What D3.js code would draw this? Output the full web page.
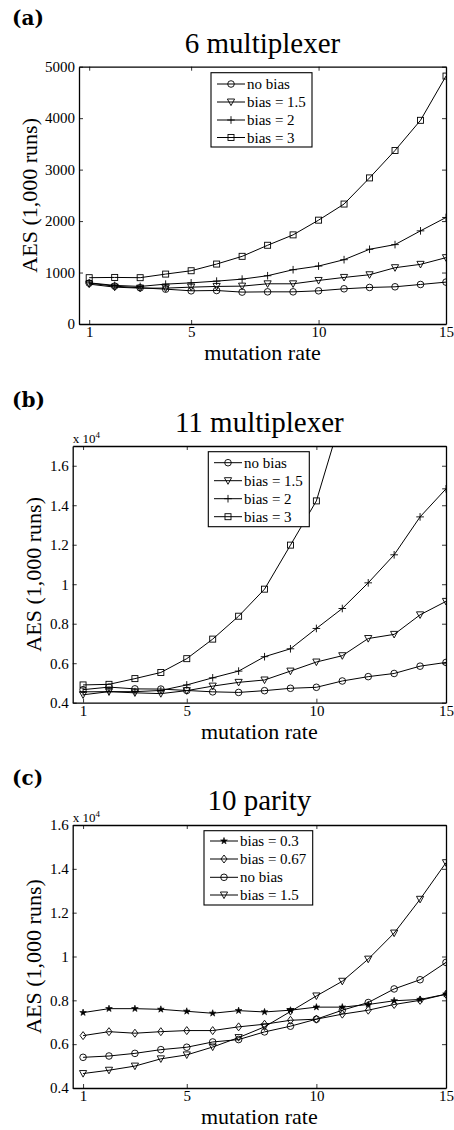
<!DOCTYPE html>
<html>
<head>
<meta charset="utf-8">
<script src="https://cdn.jsdelivr.net/npm/d3@7"></script>
<style>
  html, body { margin: 0; padding: 0; background: #fff; }
  svg { display: block; }
  text { fill: #000; }
</style>
</head>
<body>
<script>
// ---------------- DATA ----------------
const mutationRates = [1, 2, 3, 4, 5, 6, 7, 8, 9, 10, 11, 12, 13, 14, 15];
const xTickValues = [1, 5, 10, 15];

// (a) 6 multiplexer
const aNoBias  = [794, 736, 703, 677, 645, 651, 620, 625, 625, 645, 684, 710, 723, 768, 814];
const aBias15  = [775, 716, 697, 697, 716, 730, 736, 781, 781, 846, 905, 957, 1094, 1159, 1289];
const aBias2   = [800, 750, 730, 775, 800, 833, 872, 938, 1055, 1126, 1250, 1452, 1543, 1810, 2070];
const aBias3   = [900, 905, 900, 970, 1035, 1165, 1315, 1530, 1732, 2018, 2331, 2839, 3372, 3958, 4818];
const aYTicks  = [0, 1000, 2000, 3000, 4000, 5000];
const aYTickLabels = ["0", "1000", "2000", "3000", "4000", "5000"];

// (b) 11 multiplexer
const bNoBias  = [4660, 4790, 4700, 4690, 4620, 4550, 4520, 4610, 4730, 4780, 5100, 5320, 5480, 5850, 6040];
const bBias15  = [4400, 4560, 4500, 4460, 4610, 4840, 5030, 5150, 5600, 6060, 6380, 7250, 7460, 8450, 9130];
const bBias2   = [4550, 4560, 4560, 4620, 4900, 5260, 5600, 6330, 6730, 7760, 8770, 10070, 11490, 13410, 14830];
const bBias3   = [4900, 4930, 5220, 5530, 6230, 7220, 8380, 9750, 11980, 14220, 18600, 24000, 30000, 37000, 46000];
const bYTicks  = [4000, 6000, 8000, 10000, 12000, 14000, 16000];
const bYTickLabels = ["0.4", "0.6", "0.8", "1", "1.2", "1.4", "1.6"];

// (c) 10 parity
const cBias03  = [7440, 7620, 7620, 7590, 7500, 7410, 7530, 7470, 7550, 7690, 7690, 7810, 7980, 8040, 8280];
const cBias067 = [6390, 6570, 6500, 6570, 6620, 6620, 6790, 6910, 7090, 7140, 7370, 7550, 7810, 8000, 8280];
const cNoBias  = [5400, 5460, 5580, 5750, 5860, 6100, 6210, 6560, 6820, 7140, 7550, 7900, 8520, 8940, 9730];
const cBias15  = [4660, 4810, 5000, 5330, 5510, 5870, 6300, 6790, 7490, 8200, 8870, 9880, 11070, 12610, 14280];
const cYTicks  = [4000, 6000, 8000, 10000, 12000, 14000, 16000];
const cYTickLabels = ["0.4", "0.6", "0.8", "1", "1.2", "1.4", "1.6"];

const titles = ["6 multiplexer", "11 multiplexer", "10 parity"];
const panelLabels = ["(a)", "(b)", "(c)"];
const xLabel = "mutation rate";
const yLabel = "AES (1,000 runs)";
const exponentLabel = "x 10";
const exponentSup = "4";

// ---------------- DRAWING ----------------
const SERIF = "'Liberation Serif', 'Times New Roman', Tinos, 'Nimbus Roman', 'DejaVu Serif', serif";
const W = 454, H = 1130;
const svg = d3.select("body").append("svg").attr("width", W).attr("height", H)
  .attr("font-family", SERIF);

function drawMarker(g, type, cx, cy) {
  const s = g.append("g").attr("transform", `translate(${cx},${cy})`)
    .attr("fill", "none").attr("stroke", "#000").attr("stroke-width", 0.9);
  if (type === "circle") {
    s.append("circle").attr("r", 3.3);
  } else if (type === "triDown") {
    s.append("path").attr("d", "M-3.6,-3 L3.6,-3 L0,3.6 Z");
  } else if (type === "square") {
    s.append("rect").attr("x", -3).attr("y", -3).attr("width", 6).attr("height", 6);
  } else if (type === "plus") {
    s.append("path").attr("d", "M-3.8,0 H3.8 M0,-3.8 V3.8");
  } else if (type === "diamond") {
    s.append("path").attr("d", "M0,-4 L3,0 L0,4 L-3,0 Z");
  } else if (type === "star") {
    s.append("path").attr("d", d3.symbol(d3.symbolStar, 14)()).attr("fill", "#000").attr("stroke-width", 0.6);
  }
}

function drawPanel(p) {
  const x = d3.scaleLinear().domain([0.6, 15]).range([p.left, p.right]);
  const y = d3.scaleLinear().domain(p.yDomain).range([p.bottom, p.top]);
  const g = svg.append("g");

  // panel label
  g.append("text").attr("x", 12).attr("y", p.labelY)
    .attr("font-family", "'DejaVu Serif', serif").attr("font-weight", "bold")
    .attr("font-size", 20).text(p.label);

  // title
  g.append("text").attr("x", (p.left + p.right) / 2).attr("y", p.titleY)
    .attr("text-anchor", "middle").attr("font-size", 29).text(p.title);

  // clip
  const clipId = "clip" + p.label.replace(/\W/g, "");
  svg.append("clipPath").attr("id", clipId).append("rect")
    .attr("x", p.left).attr("y", p.top).attr("width", p.right - p.left).attr("height", p.bottom - p.top);

  // axes (inward ticks on all sides)
  const axB = d3.axisBottom(x).tickValues(xTickValues).tickSizeInner(-4).tickSizeOuter(0).tickPadding(2.6)
    .tickFormat(d3.format("d"));
  const axT = d3.axisTop(x).tickValues(xTickValues).tickSizeInner(-4).tickSizeOuter(0).tickFormat("");
  const axL = d3.axisLeft(y).tickValues(p.yTicks).tickSizeInner(-4).tickSizeOuter(0).tickPadding(4)
    .tickFormat((d, i) => p.yTickLabels[i]);
  const axR = d3.axisRight(y).tickValues(p.yTicks).tickSizeInner(-4).tickSizeOuter(0).tickFormat("");

  const gB = g.append("g").attr("transform", `translate(0,${p.bottom})`).call(axB);
  const gT = g.append("g").attr("transform", `translate(0,${p.top})`).call(axT);
  const gL = g.append("g").attr("transform", `translate(${p.left},0)`).call(axL);
  const gR = g.append("g").attr("transform", `translate(${p.right},0)`).call(axR);
  [gB, gT, gL, gR].forEach(a => {
    a.attr("font-family", SERIF).attr("font-size", 15);
    a.selectAll("text").attr("fill", "#000");
    a.selectAll("line").attr("stroke", "#000").attr("stroke-width", 0.8);
    a.select(".domain").attr("stroke", "#000").attr("stroke-width", 1.3);
  });

  // exponent label
  if (p.exponent) {
    const t = g.append("text").attr("x", p.left).attr("y", p.top - 3).attr("font-size", 13);
    t.append("tspan").text(exponentLabel);
    t.append("tspan").attr("dy", -5).attr("font-size", 9).text(exponentSup);
  }

  // axis labels
  g.append("text").attr("x", (p.left + p.right) / 2).attr("y", p.bottom + 36)
    .attr("text-anchor", "middle").attr("font-size", 22).text(xLabel);
  g.append("text").attr("transform", `translate(${p.yLabelX},${(p.top + p.bottom) / 2}) rotate(-90)`)
    .attr("text-anchor", "middle").attr("font-size", 22).text(yLabel);

  // series
  const line = d3.line().x((d, i) => x(mutationRates[i])).y(d => y(d));
  const plot = g.append("g").attr("clip-path", `url(#${clipId})`);
  p.series.forEach(s => {
    plot.append("path").datum(s.values).attr("d", line)
      .attr("fill", "none").attr("stroke", "#000").attr("stroke-width", 1);
    s.values.forEach((v, i) => drawMarker(plot, s.marker, x(mutationRates[i]), y(v)));
  });

  // legend
  const L = p.legend;
  g.append("rect").attr("x", L.x0).attr("y", L.y0).attr("width", L.x1 - L.x0).attr("height", L.y1 - L.y0)
    .attr("fill", "#fff").attr("stroke", "#000").attr("stroke-width", 1.1);
  p.legendOrder.forEach((s, i) => {
    const ry = L.rows[i];
    g.append("line").attr("x1", L.lineX0).attr("x2", L.lineX1).attr("y1", ry).attr("y2", ry)
      .attr("stroke", "#000").attr("stroke-width", 1);
    drawMarker(g, s.marker, (L.lineX0 + L.lineX1) / 2, ry);
    g.append("text").attr("x", L.textX).attr("y", ry + 5).attr("font-size", 15).text(s.name);
  });
}

// panel (a)
{
  const series = [
    { name: "no bias", values: aNoBias, marker: "circle" },
    { name: "bias = 1.5", values: aBias15, marker: "triDown" },
    { name: "bias = 2", values: aBias2, marker: "plus" },
    { name: "bias = 3", values: aBias3, marker: "square" }
  ];
  drawPanel({
    label: panelLabels[0], labelY: 25, title: titles[0], titleY: 53,
    left: 79, right: 446, top: 66.7, bottom: 324, yDomain: [0, 5000],
    yTicks: aYTicks, yTickLabels: aYTickLabels, yLabelX: 37, exponent: false,
    series: series, legendOrder: series,
    legend: { x0: 211, x1: 312, y0: 72.7, y1: 147, rows: [84, 102, 120, 137.5], lineX0: 217, lineX1: 245, textX: 247 }
  });
}
// panel (b)
{
  const series = [
    { name: "no bias", values: bNoBias, marker: "circle" },
    { name: "bias = 1.5", values: bBias15, marker: "triDown" },
    { name: "bias = 2", values: bBias2, marker: "plus" },
    { name: "bias = 3", values: bBias3, marker: "square" }
  ];
  drawPanel({
    label: panelLabels[1], labelY: 407, title: titles[1], titleY: 431.5,
    left: 72.7, right: 446, top: 446, bottom: 702.7, yDomain: [4000, 17000],
    yTicks: bYTicks, yTickLabels: bYTickLabels, yLabelX: 41, exponent: true,
    series: series, legendOrder: series,
    legend: { x0: 208.3, x1: 309.3, y0: 451.7, y1: 526.7, rows: [462.7, 480.7, 498.7, 516.7], lineX0: 214, lineX1: 242, textX: 244 }
  });
}
// panel (c)
{
  const series = [
    { name: "bias = 0.3", values: cBias03, marker: "star" },
    { name: "bias = 0.67", values: cBias067, marker: "diamond" },
    { name: "no bias", values: cNoBias, marker: "circle" },
    { name: "bias = 1.5", values: cBias15, marker: "triDown" }
  ];
  drawPanel({
    label: panelLabels[2], labelY: 785, title: titles[2], titleY: 810,
    left: 72.7, right: 446, top: 825, bottom: 1088, yDomain: [4000, 16000],
    yTicks: cYTicks, yTickLabels: cYTickLabels, yLabelX: 41, exponent: true,
    series: series, legendOrder: series,
    legend: { x0: 204, x1: 312.7, y0: 830.7, y1: 905, rows: [841, 859, 877.3, 895], lineX0: 210, lineX1: 238, textX: 240 }
  });
}
</script>
</body>
</html>
